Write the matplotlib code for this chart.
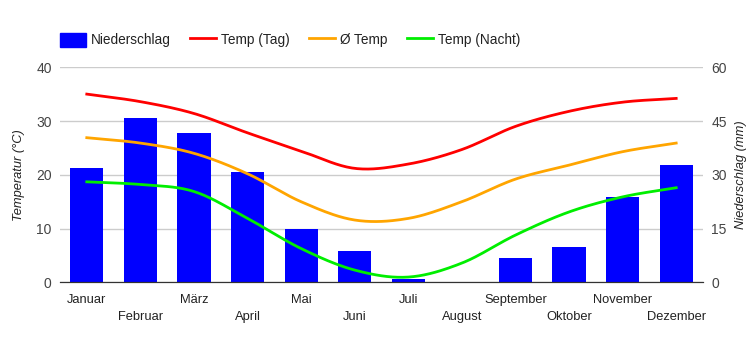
import numpy as np
import matplotlib
matplotlib.use("Agg")
import matplotlib.pyplot as plt
from matplotlib.patches import Patch
from matplotlib.lines import Line2D

plt.rcParams['font.family'] = ['Liberation Sans', 'DejaVu Sans']

months = ['Januar', 'Februar', 'März', 'April', 'Mai', 'Juni',
          'Juli', 'August', 'September', 'Oktober', 'November', 'Dezember']
niederschlag = [31.8, 45.8, 41.6, 30.7, 14.9, 8.7, 0.9, 0.1, 6.9, 9.8, 23.8, 32.7]
temp_tag = [35.0, 33.6, 31.4, 27.8, 24.4, 21.2, 22.0, 24.7, 29.0, 31.8, 33.5, 34.2]
temp_mittel = [26.9, 25.9, 24.0, 20.2, 15.0, 11.6, 11.9, 15.0, 19.2, 21.8, 24.3, 25.9]
temp_nacht = [18.7, 18.2, 16.9, 11.9, 6.3, 2.3, 1.0, 3.6, 8.8, 13.1, 15.9, 17.6]


def smooth(y, n=20):
    # Catmull-Rom Kurve durch die Monatswerte (nur fuer die Darstellung)
    y = np.asarray(y, dtype=float)
    p = np.concatenate([[2 * y[0] - y[1]], y, [2 * y[-1] - y[-2]]])
    xs, ys = [], []
    t = np.linspace(0, 1, n, endpoint=False)
    for i in range(len(y) - 1):
        p0, p1, p2, p3 = p[i], p[i + 1], p[i + 2], p[i + 3]
        seg = 0.5 * ((2 * p1) + (-p0 + p2) * t + (2 * p0 - 5 * p1 + 4 * p2 - p3) * t ** 2
                     + (-p0 + 3 * p1 - 3 * p2 + p3) * t ** 3)
        xs.extend(i + t)
        ys.extend(seg)
    xs.append(len(y) - 1)
    ys.append(y[-1])
    return np.array(xs), np.array(ys)


fig = plt.figure(figsize=(7.5, 3.5), dpi=100)
ax = fig.add_axes([0.08, 0.193, 0.8573, 0.615])
ax2 = ax.twinx()

x = np.arange(len(months))
ax.bar(x, niederschlag, width=0.62, color='#0000ff', zorder=2)
ax.set_ylim(0, 60)
ax.set_yticks([0, 15, 30, 45, 60])
ax.set_xlim(-0.5, 11.5)
ax.yaxis.tick_right()
ax.yaxis.set_label_position('right')

for vals, col in [(temp_tag, '#ff0000'), (temp_mittel, '#ffa500'), (temp_nacht, '#00ee00')]:
    sx, sy = smooth(vals)
    ax2.plot(sx, sy, color=col, lw=2)
ax2.set_ylim(0, 40)
ax2.set_yticks([0, 10, 20, 30, 40])
ax2.yaxis.tick_left()
ax2.yaxis.set_label_position('left')

ax.grid(axis='y', color='#cccccc', lw=1, zorder=0)
for a in (ax, ax2):
    for s in ['top', 'left', 'right']:
        a.spines[s].set_visible(False)
    a.spines['bottom'].set_color('#333333')
    a.tick_params(axis='y', length=0, labelsize=10, colors='#444444', pad=6)

labels = [m if i % 2 == 0 else '\n' + m for i, m in enumerate(months)]
ax.set_xticks(x)
ax.set_xticklabels(labels, fontsize=9.3, color='#222222', linespacing=1.6)
ax.tick_params(axis='x', length=0, pad=8)
ax2.tick_params(axis='x', length=0)

ax2.set_ylabel('Temperatur (°C)', fontsize=9.3, style='italic', color='#222222', labelpad=8)
ax.set_ylabel('Niederschlag (mm)', fontsize=9.3, style='italic', color='#222222', labelpad=6)

handles = [Patch(color='#0000ff'),
           Line2D([], [], color='#ff0000', lw=2),
           Line2D([], [], color='#ffa500', lw=2),
           Line2D([], [], color='#00ee00', lw=2)]
fig.legend(handles, ['Niederschlag', 'Temp (Tag)', 'Ø Temp', 'Temp (Nacht)'],
           loc='center left', bbox_to_anchor=(0.080, 0.886), ncol=4, frameon=False,
           fontsize=9.8, handlelength=1.9, handleheight=1.2, columnspacing=1.45,
           handletextpad=0.35, labelcolor='#222222', borderaxespad=0, borderpad=0)

fig.savefig('out.png', dpi=100)
